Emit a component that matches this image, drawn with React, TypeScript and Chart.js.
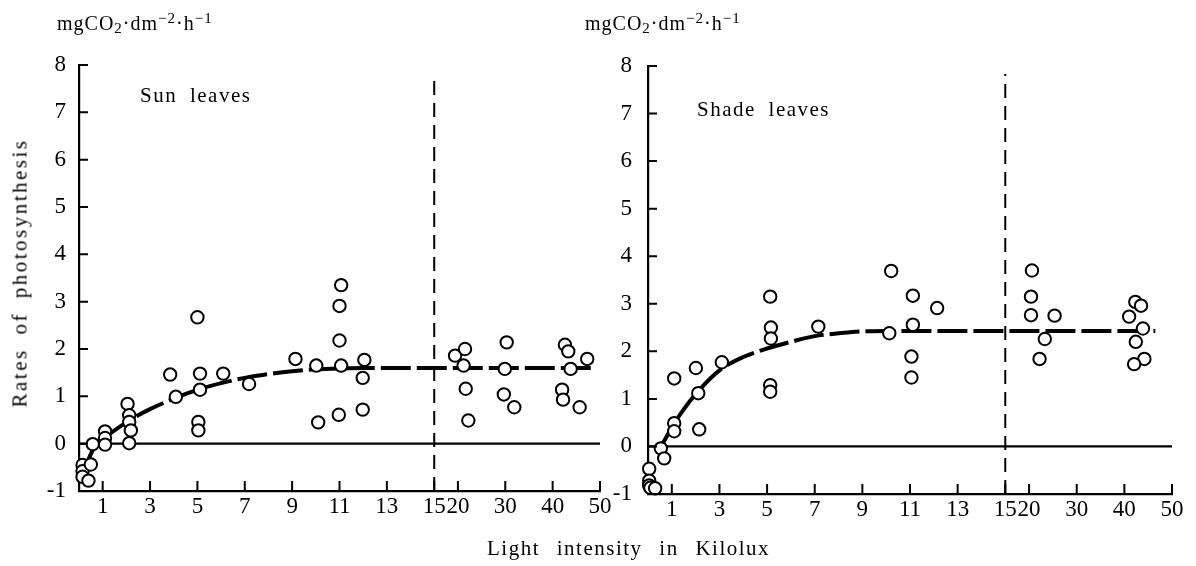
import React, { useEffect, useRef } from "react";
import { Chart, registerables } from "chart.js";

Chart.register(...registerables);

// ---------- data (light intensity in kilolux, rate in mgCO2·dm-2·h-1) ----------
const xTickValues = [1, 3, 5, 7, 9, 11, 13, 15, 20, 30, 40, 50];
const yTickMin = -1;
const yTickMax = 8;

const sunX = [
  0.15, 0.15, 0.15, 0.4, 0.5, 0.58,
  1.1, 1.1, 1.1,
  2.05, 2.12, 2.12, 2.19, 2.12,
  3.85, 4.09,
  5.0, 5.11, 5.11, 5.04, 5.04,
  6.09, 7.18, 9.14, 10.02, 10.1,
  11.07, 11.0, 11.0, 11.07, 10.97,
  12.05, 11.98, 11.98,
  19.4, 21.5, 21.2, 21.65, 22.2,
  30.3, 29.9, 29.7, 31.9,
  42.6, 43.3, 43.8, 47.3, 42.0, 42.2, 45.7,
];
const sunY = [
  -0.45, -0.58, -0.7, -0.78, -0.44, -0.01,
  0.26, 0.12, -0.02,
  0.84, 0.6, 0.46, 0.28, 0.01,
  1.46, 0.99,
  2.67, 1.48, 1.14, 0.46, 0.28,
  1.48, 1.26, 1.79, 1.65, 0.45,
  3.35, 2.91, 2.18, 1.65, 0.61,
  1.77, 1.39, 0.72,
  1.86, 2.0, 1.65, 1.16, 0.49,
  2.14, 1.58, 1.04, 0.77,
  2.09, 1.95, 1.58, 1.79, 1.14, 0.93, 0.77,
];
const sunCurveX = [0.3, 0.6, 1, 1.5, 2, 2.5, 3, 4, 5, 6, 7, 8, 9, 10, 11, 12, 15, 49];
const sunCurveY = [-0.45, -0.12, 0.1, 0.28, 0.45, 0.6, 0.73, 0.95, 1.14, 1.28, 1.39, 1.47, 1.53, 1.57, 1.59, 1.6, 1.6, 1.6];

const shadeX = [
  0.05, 0.05, 0.05, 0.1, 0.3,
  0.54, 0.68,
  1.1, 1.1, 1.1,
  2.01, 2.11, 2.15,
  3.1,
  5.13, 5.16, 5.16, 5.13, 5.13,
  7.15,
  10.21, 10.13,
  11.12, 11.12, 11.06, 11.06,
  12.14,
  20.6, 20.4, 20.4, 25.35, 23.3, 22.2,
  42.3, 43.5, 41.0, 43.9, 42.4, 44.2, 42.05,
];
const shadeY = [
  -0.47, -0.72, -0.82, -0.87, -0.88,
  -0.04, -0.25,
  1.43, 0.49, 0.32,
  1.65, 1.12, 0.36,
  1.77,
  3.15, 2.5, 2.27, 1.29, 1.15,
  2.52,
  3.69, 2.38,
  3.17, 2.56, 1.89, 1.45,
  2.91,
  3.7, 3.15, 2.76, 2.75, 2.26, 1.84,
  3.04, 2.96, 2.73, 2.48, 2.2, 1.84, 1.73,
];
const shadeCurveX = [0.5, 1, 1.5, 2, 3, 4, 5, 6, 7, 8, 9, 10, 12, 15, 46.5];
const shadeCurveY = [-0.05, 0.4, 0.78, 1.1, 1.6, 1.88, 2.06, 2.2, 2.32, 2.38, 2.42, 2.43, 2.43, 2.43, 2.43];

const zeroLineX = [0, 50];
const zeroLineY = [0, 0];
const dividerX = [15, 15];
const dividerY = [-1, 7.83];

// ---------- broken axis: 0–15 linear, 15–50 compressed 5x ----------
const BREAK = 15;
const toAxis = (x: number) => (x <= BREAK ? x : BREAK + (x - BREAK) / 5);
const fromAxis = (u: number) => (u <= BREAK ? u : BREAK + (u - BREAK) * 5);
const pts = (xs: number[], ys: number[]) => xs.map((x, i) => ({ x: toAxis(x), y: ys[i] }));

const FONT = '"Liberation Serif", "Times New Roman", serif';

const inwardTicks = {
  id: "inwardTicks",
  afterDatasetsDraw(chart: any) {
    const { ctx, chartArea, scales } = chart;
    const xs = scales.x;
    const ys = scales.y;
    ctx.save();
    ctx.strokeStyle = "#000";
    ctx.lineWidth = 2;
    ctx.beginPath();
    xs.ticks.forEach((t: any) => {
      const px = xs.getPixelForValue(t.value);
      ctx.moveTo(px, chartArea.bottom);
      ctx.lineTo(px, chartArea.bottom - 10);
    });
    ys.ticks.forEach((t: any) => {
      const py = ys.getPixelForValue(t.value);
      ctx.moveTo(chartArea.left, py);
      ctx.lineTo(chartArea.left + 9, py);
    });
    ctx.stroke();
    ctx.restore();
  },
};

function buildConfig(
  px: number[], py: number[], cx: number[], cy: number[],
  yWidth: number, xHeight: number, padTop: number, padRight: number, yPad: number
): any {
  return {
    type: "scatter",
    data: {
      datasets: [
        {
          type: "scatter",
          data: pts(px, py),
          pointRadius: 6.2,
          pointBorderWidth: 2,
          pointBorderColor: "#000",
          pointBackgroundColor: "#fff",
          borderColor: "#000",
          backgroundColor: "#fff",
          clip: false,
          order: 0,
        },
        {
          type: "line",
          data: pts(cx, cy),
          showLine: true,
          borderColor: "#000",
          borderWidth: 4,
          borderDash: [30, 6],
          pointRadius: 0,
          cubicInterpolationMode: "monotone",
          fill: false,
          clip: false,
          order: 1,
        },
        {
          type: "line",
          data: pts(zeroLineX, zeroLineY),
          showLine: true,
          borderColor: "#000",
          borderWidth: 2.2,
          pointRadius: 0,
          fill: false,
          order: 2,
        },
        {
          type: "line",
          data: pts(dividerX, dividerY),
          showLine: true,
          borderColor: "#000",
          borderWidth: 2,
          borderDash: [14, 8],
          pointRadius: 0,
          fill: false,
          clip: false,
          order: 3,
        },
      ],
    },
    options: {
      responsive: false,
      maintainAspectRatio: false,
      animation: false,
      events: [],
      layout: { padding: { left: 0, top: padTop, right: padRight, bottom: 0 } },
      plugins: { legend: { display: false }, tooltip: { enabled: false }, title: { display: false } },
      scales: {
        x: {
          type: "linear",
          min: 0,
          max: toAxis(50),
          afterBuildTicks: (s: any) => {
            s.ticks = xTickValues.map((v) => ({ value: toAxis(v) }));
          },
          afterFit: (s: any) => {
            s.height = xHeight;
          },
          grid: { display: true, drawOnChartArea: false, drawTicks: false },
          border: { display: true, color: "#000", width: 2.2 },
          ticks: {
            autoSkip: false,
            maxRotation: 0,
            minRotation: 0,
            padding: 2,
            color: "#000",
            font: { family: FONT, size: 23 },
            callback: (v: any) => String(Math.round(fromAxis(Number(v)))),
          },
        },
        y: {
          type: "linear",
          min: yTickMin,
          max: yTickMax,
          afterFit: (s: any) => {
            s.width = yWidth;
          },
          grid: { display: true, drawOnChartArea: false, drawTicks: false },
          border: { display: true, color: "#000", width: 2.2 },
          ticks: {
            stepSize: 1,
            padding: yPad,
            color: "#000",
            font: { family: FONT, size: 23 },
          },
        },
      },
    },
    plugins: [inwardTicks],
  };
}

const abs = (s: React.CSSProperties): React.CSSProperties => ({ position: "absolute", whiteSpace: "nowrap", lineHeight: 1, ...s });

function UnitLabel({ left }: { left: number }) {
  return (
    <div style={abs({ left, top: 11, fontSize: 20, letterSpacing: "1px" })}>
      mgCO<sub style={{ fontSize: 15, verticalAlign: "-3px" }}>2</sub>·dm
      <sup style={{ fontSize: 15, verticalAlign: "7px" }}>−2</sup>·h
      <sup style={{ fontSize: 15, verticalAlign: "7px" }}>−1</sup>
    </div>
  );
}

export default function App() {
  const leftRef = useRef<HTMLCanvasElement>(null);
  const rightRef = useRef<HTMLCanvasElement>(null);

  useEffect(() => {
    const a = new Chart(
      leftRef.current as HTMLCanvasElement,
      buildConfig(sunX, sunY, sunCurveX, sunCurveY, 79, 75, 65, 15, 13)
    );
    const b = new Chart(
      rightRef.current as HTMLCanvasElement,
      buildConfig(shadeX, shadeY, shadeCurveX, shadeCurveY, 58, 72, 66, 24, 16)
    );
    return () => {
      a.destroy();
      b.destroy();
    };
  }, []);

  return (
    <div
      style={{
        position: "fixed",
        left: 0,
        top: 0,
        width: 1196,
        height: 566,
        background: "#fff",
        color: "#000",
        fontFamily: FONT,
        overflow: "hidden",
      }}
    >
      <canvas ref={leftRef} width={615} height={566} style={{ position: "absolute", left: 0, top: 0 }} />
      <canvas ref={rightRef} width={606} height={566} style={{ position: "absolute", left: 590, top: 0 }} />
      <UnitLabel left={57} />
      <UnitLabel left={585} />
      <div style={abs({ left: 140, top: 85, fontSize: 21, letterSpacing: "1.5px", wordSpacing: "6px" })}>Sun leaves</div>
      <div style={abs({ left: 697, top: 99, fontSize: 21, letterSpacing: "1.5px", wordSpacing: "6px" })}>Shade leaves</div>
      <div
        style={abs({
          left: 20,
          top: 273,
          fontSize: 21,
          letterSpacing: "2.5px",
          wordSpacing: "6px",
          transform: "translate(-50%, -50%) rotate(-90deg)",
        })}
      >
        Rates of photosynthesis
      </div>
      <div style={abs({ left: 487, top: 538, fontSize: 21, letterSpacing: "1.5px", wordSpacing: "10px" })}>
        Light intensity in Kilolux
      </div>
    </div>
  );
}
